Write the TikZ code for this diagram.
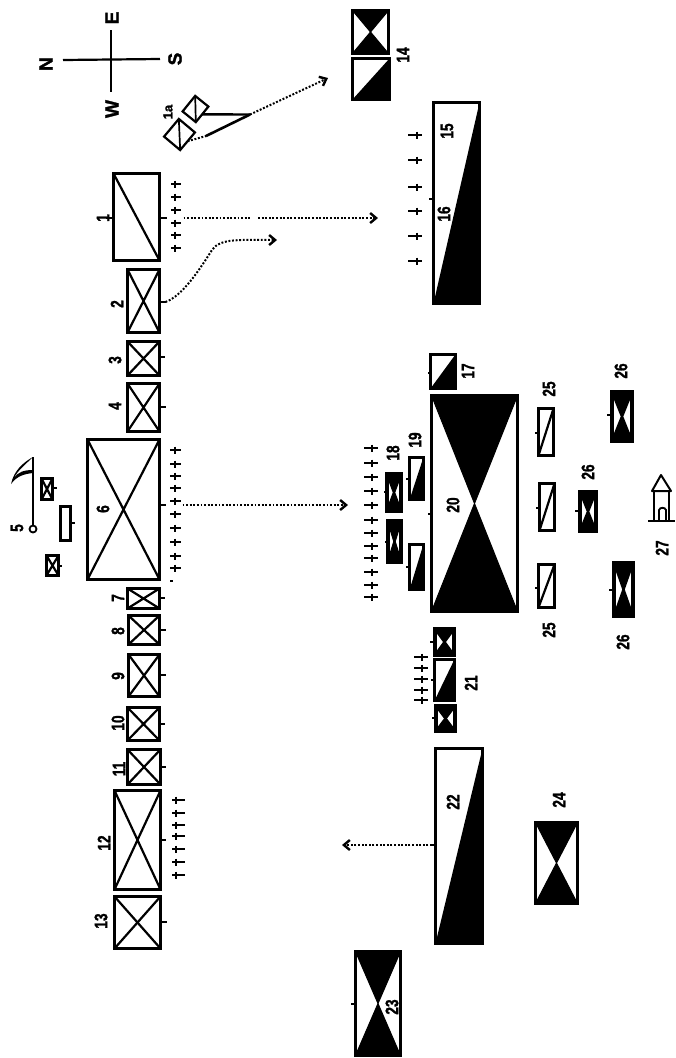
\documentclass[tikz,border=0pt]{standalone}
\usepackage{fontspec}
\usepackage{graphicx}
\setmainfont{Liberation Sans}[BoldFeatures={FakeBold=1.6}]
\usetikzlibrary{arrows.meta}
\def\fw{3}
\tikzset{
  x=1pt,y=-1pt,
  framed/.style={draw=black,fill=white,line width=\fw pt,inner sep=0pt,outer sep=0pt,rectangle,anchor=center},
  crossline/.style={draw=black,line width=2.2pt},
  tickline/.style={draw=black,line width=2.2pt},
  dagline/.style={draw=black,line width=2pt},
  dotline/.style={draw=black,line width=2pt,dash pattern=on 1.9pt off 1.7pt,
     >={Straight Barb[length=6pt,width=10pt,line width=2.4pt]}},
  lab/.style={inner sep=0pt,font=\fontsize{18}{18}\selectfont\bfseries,rotate=90,text=black},
  complab/.style={inner sep=0pt,font=\fontsize{19}{19}\selectfont\bfseries,rotate=90,text=black},
}
\newcommand\plainbox[5]{\node[framed,minimum width={(#4-#2-\fw)*1pt},minimum height={(#5-#3-\fw)*1pt}] (#1) at ({(#2+#4)/2},{(#3+#5)/2}) {};}
\newcommand\crossbox[5]{\plainbox{#1}{#2}{#3}{#4}{#5}
  \draw[crossline] (#1.north west)--(#1.south east) (#1.north east)--(#1.south west);}
\newcommand\slashbox[5]{\plainbox{#1}{#2}{#3}{#4}{#5}
  \draw[crossline] (#1.south west)--(#1.north east);}
\newcommand\hourbox[5]{\plainbox{#1}{#2}{#3}{#4}{#5}
  \fill[black] (#1.north west)--(#1.north east)--(#1.center)--cycle
               (#1.south west)--(#1.south east)--(#1.center)--cycle;
  \draw[line width=\fw pt-2pt] (#1.north west)--(#1.south east) (#1.north east)--(#1.south west);}
\newcommand\halfbox[5]{\plainbox{#1}{#2}{#3}{#4}{#5}
  \fill[black] (#1.south west)--(#1.north east)--(#1.south east)--cycle;}
\newcommand\tickmark[4]{\draw[tickline] (#1.#2 |- 0,#3)--++(#4,0);}
\newcommand\daggers[4]{\foreach \yy in {#4}{\draw[dagline] (#1,\yy)--(#2,\yy) (#3,\yy-3.5)--(#3,\yy+3.5);}}
\newcommand\lbl[4]{\node[lab] (#1) at (#2,#3) {\scalebox{.76}[1]{#4}};}
\begin{document}
\begin{tikzpicture}
\useasboundingbox (0,0) rectangle (676,1058);
% compass
\node[complab] (cN) at (46,64) {N};
\node[complab] (cS) at (175,59) {S};
\node[complab] (cE) at (112,18) {E};
\node[complab] (cW) at (112,109) {W};
\draw[line width=2.2pt] (63,60) -- (160,59);
\draw[line width=2.2pt] (111,30) -- (111,92);
% main row
\plainbox{b1}{112}{172}{161}{262}
\draw[crossline] (b1.north west)--(b1.south east);
\crossbox{b2}{126}{268}{161}{334}
\crossbox{b3}{126}{340}{161}{377}
\crossbox{b4}{126}{382}{161}{433}
\crossbox{b6}{86}{438}{161}{581}
\crossbox{b7}{126}{587}{161}{610}
\crossbox{b8}{127}{614}{161}{646}
\crossbox{b9}{127}{653}{161}{698}
\crossbox{b10}{126}{706}{161}{742}
\crossbox{b11}{126}{748}{162}{786}
\crossbox{b12}{113}{789}{162}{891}
\crossbox{b13}{113}{895}{162}{950}
\tickmark{b1}{west}{218}{-8}
\tickmark{b1}{east}{218}{7}
\tickmark{b2}{east}{302}{6}
\tickmark{b3}{east}{357}{5}
\tickmark{b4}{east}{407}{6}
\tickmark{b6}{east}{505}{6}
\tickmark{b7}{east}{598}{5}
\tickmark{b8}{east}{630}{6}
\tickmark{b9}{east}{675}{6}
\tickmark{b10}{east}{724}{5}
\tickmark{b11}{east}{767}{5}
\tickmark{b12}{east}{840}{5}
\tickmark{b13}{east}{922}{6}
\daggers{171}{181}{175}{184,197,210,223,235,248}
\daggers{170}{181}{175}{450,464,476,488,501,514,528,542,556,568}
\draw[dagline] (170,581)--(173,581);
\daggers{172}{185}{176}{800,813,825,836,849,862,875}
\lbl{l1}{103}{218}{1}
\lbl{l2}{117}{304}{2}
\lbl{l3}{115}{360}{3}
\lbl{l4}{115}{406}{4}
\lbl{l6}{103}{509}{6}
\lbl{l7}{118}{598}{7}
\lbl{l8}{118}{631}{8}
\lbl{l9}{118}{676}{9}
\lbl{l10}{118}{723}{10}
\lbl{l11}{119}{769}{11}
\lbl{l12}{104}{843}{12}
\lbl{l13}{101}{921}{13}
% 1a
\node[framed,line width=2.2pt,rotate=-39,minimum width=17pt,minimum height=20pt] (ba) at (195.5,109) {};
\draw[line width=1.7pt] (ba.north west)--(ba.south east);
\node[framed,line width=2.2pt,rotate=-40,minimum width=21pt,minimum height=23pt] (bb) at (179.5,134.5) {};
\draw[line width=1.7pt] (bb.north west)--(bb.south east);
\node[lab,font=\fontsize{13}{13}\selectfont\bfseries] (l1a) at (168,112) {1a};
\coordinate (j1) at (250,114.5);
\coordinate (t14) at (328,78);
\coordinate (j2) at (206,136);
\draw[line width=2.4pt] (ba.east) -- (j1);
\draw[line width=2.6pt] (j2) -- (j1);
\draw[dotline] (bb.east) -- (j2);
\draw[dotline,->] (j1) -- (t14);
% 14
\hourbox{b14a}{351}{9}{390}{55}
\halfbox{b14b}{351}{57}{391}{101}
\lbl{l14}{403}{55}{14}
% 15
\halfbox{b15}{432}{101}{481}{305}
\tickmark{b15}{west}{199}{-5}
\daggers{408}{422}{417}{135,160,187,211,236,261}
\lbl{l15}{447}{131}{15}
\lbl{l16}{444}{214}{16}
% connectors from top row
\coordinate (gapA) at (250,218);
\coordinate (gapB) at (258,218);
\coordinate (t1) at (378,218);
\draw[dotline] ([xshift=24pt]b1.east |- 0,218) -- (gapA);
\draw[dotline,->] (gapB) -- (t1);
\coordinate (t2) at (277,240);
\draw[dotline,->] ([xshift=6pt]b2.east |- 0,302) .. controls (182,296) and (198,272) .. (212,250) .. controls (220,238) and (240,240) .. (t2);
\coordinate (t6) at (348,505);
\draw[dotline,->] ([xshift=23pt]b6.east |- 0,505) -- (t6);
% 17
\def\fw{3.4}
\halfbox{b17}{429}{353}{457}{390}
\tickmark{b17}{west}{373}{-3}
\lbl{l17}{468}{371}{17}
% 20
\def\fw{3}
\hourbox{b20}{430}{394}{519}{613}
\tickmark{b20}{west}{514}{-4}
\lbl{l20}{453}{505}{20}
% 18,19
\def\fw{3.4}
\halfbox{b19a}{408}{456}{425}{501}
\halfbox{b19b}{408}{543}{425}{591}
\def\fw{4.4}
\hourbox{b18a}{385}{472}{403}{513}
\hourbox{b18b}{386}{519}{403}{564}
\tickmark{b19a}{west}{479}{-4}
\tickmark{b19b}{west}{567}{-4}
\tickmark{b18a}{west}{492}{-3}
\tickmark{b18b}{west}{542}{-3}
\lbl{l19}{415}{440}{19}
\lbl{l18}{393}{453}{18}
\daggers{364}{378}{372}{448,463,477,491,505,520,533,546,558,572,585,597}
% 25
\def\fw{3}
\slashbox{b25a}{537}{407}{555}{457}
\slashbox{b25b}{538}{482}{556}{532}
\slashbox{b25c}{537}{563}{556}{609}
\tickmark{b25a}{west}{433}{-4}
\tickmark{b25b}{west}{508}{-4}
\tickmark{b25c}{west}{588}{-4}
\lbl{l25a}{549}{389}{25}
\lbl{l25b}{549}{630}{25}
% 26
\def\fw{4.4}
\hourbox{b26a}{610}{390}{634}{443}
\hourbox{b26b}{578}{490}{598}{533}
\hourbox{b26c}{612}{561}{635}{618}
\tickmark{b26a}{west}{415}{-5}
\tickmark{b26b}{west}{511}{-5}
\tickmark{b26c}{west}{590}{-5}
\lbl{l26a}{621}{371}{26}
\lbl{l26b}{588}{472}{26}
\lbl{l26c}{623}{642}{26}
% 27 house
\draw[line width=2pt,line join=round] (661,475)--(652,491)--(671,491)--cycle;
\draw[line width=2pt] (654,491)--(654,520) (669,491)--(669,520) (648,520.5)--(675,520.5);
\draw[line width=1.8pt] (659,520)--(659,510) .. controls (660,507) and (665,507) .. (666,510) --(666,520);
\lbl{l27}{662}{548}{27}
% 21
\def\fw{4.4}
\hourbox{b21a}{433}{627}{456}{657}
\def\fw{3.4}
\halfbox{b21b}{433}{658}{456}{702}
\def\fw{4.4}
\hourbox{b21c}{434}{704}{457}{733}
\tickmark{b21a}{west}{642}{-5}
\tickmark{b21b}{west}{680}{-4}
\tickmark{b21c}{west}{718}{-4}
\daggers{414}{428}{422}{657,668,679,690,700}
\lbl{l21}{471}{683}{21}
% 22
\def\fw{3}
\halfbox{b22}{434}{747}{484}{945}
\tickmark{b22}{west}{845}{-5}
\lbl{l22}{453}{802}{22}
\coordinate (t22) at (342,845);
\draw[dotline,->] (b22.west |- 0,845) -- (t22);
% 23
\hourbox{b23}{354}{950}{402}{1057}
\tickmark{b23}{west}{1004}{-5}
\lbl{l23}{392}{1007}{23}
% 24
\hourbox{b24}{534}{821}{579}{905}
\lbl{l24}{559}{800}{24}
% 5 group
\coordinate (poleTop) at (33,457);
\node[draw=black,line width=1.8pt,circle,inner sep=0pt,minimum size=7pt,fill=white] (o5) at (33,529) {};
\draw[line width=1.8pt] (poleTop) -- (o5);
\fill[black] (poleTop) .. controls (24,462) and (14,470) .. (11,484) .. controls (17,476) and (24,474) .. (33,473) -- (33,470) .. controls (24,470) and (18,472) .. (14,478) .. controls (18,470) and (26,464) .. (poleTop) -- cycle;
\lbl{l5}{17}{528}{5}
\crossbox{bc1}{40}{477}{54}{501}
\tickmark{bc1}{east}{488}{4}
\plainbox{bc2}{59}{505}{72}{542}
\tickmark{bc2}{east}{523}{4}
\crossbox{bc3}{45}{554}{60}{577}
\tickmark{bc3}{east}{566}{3}
\end{tikzpicture}
\end{document}
